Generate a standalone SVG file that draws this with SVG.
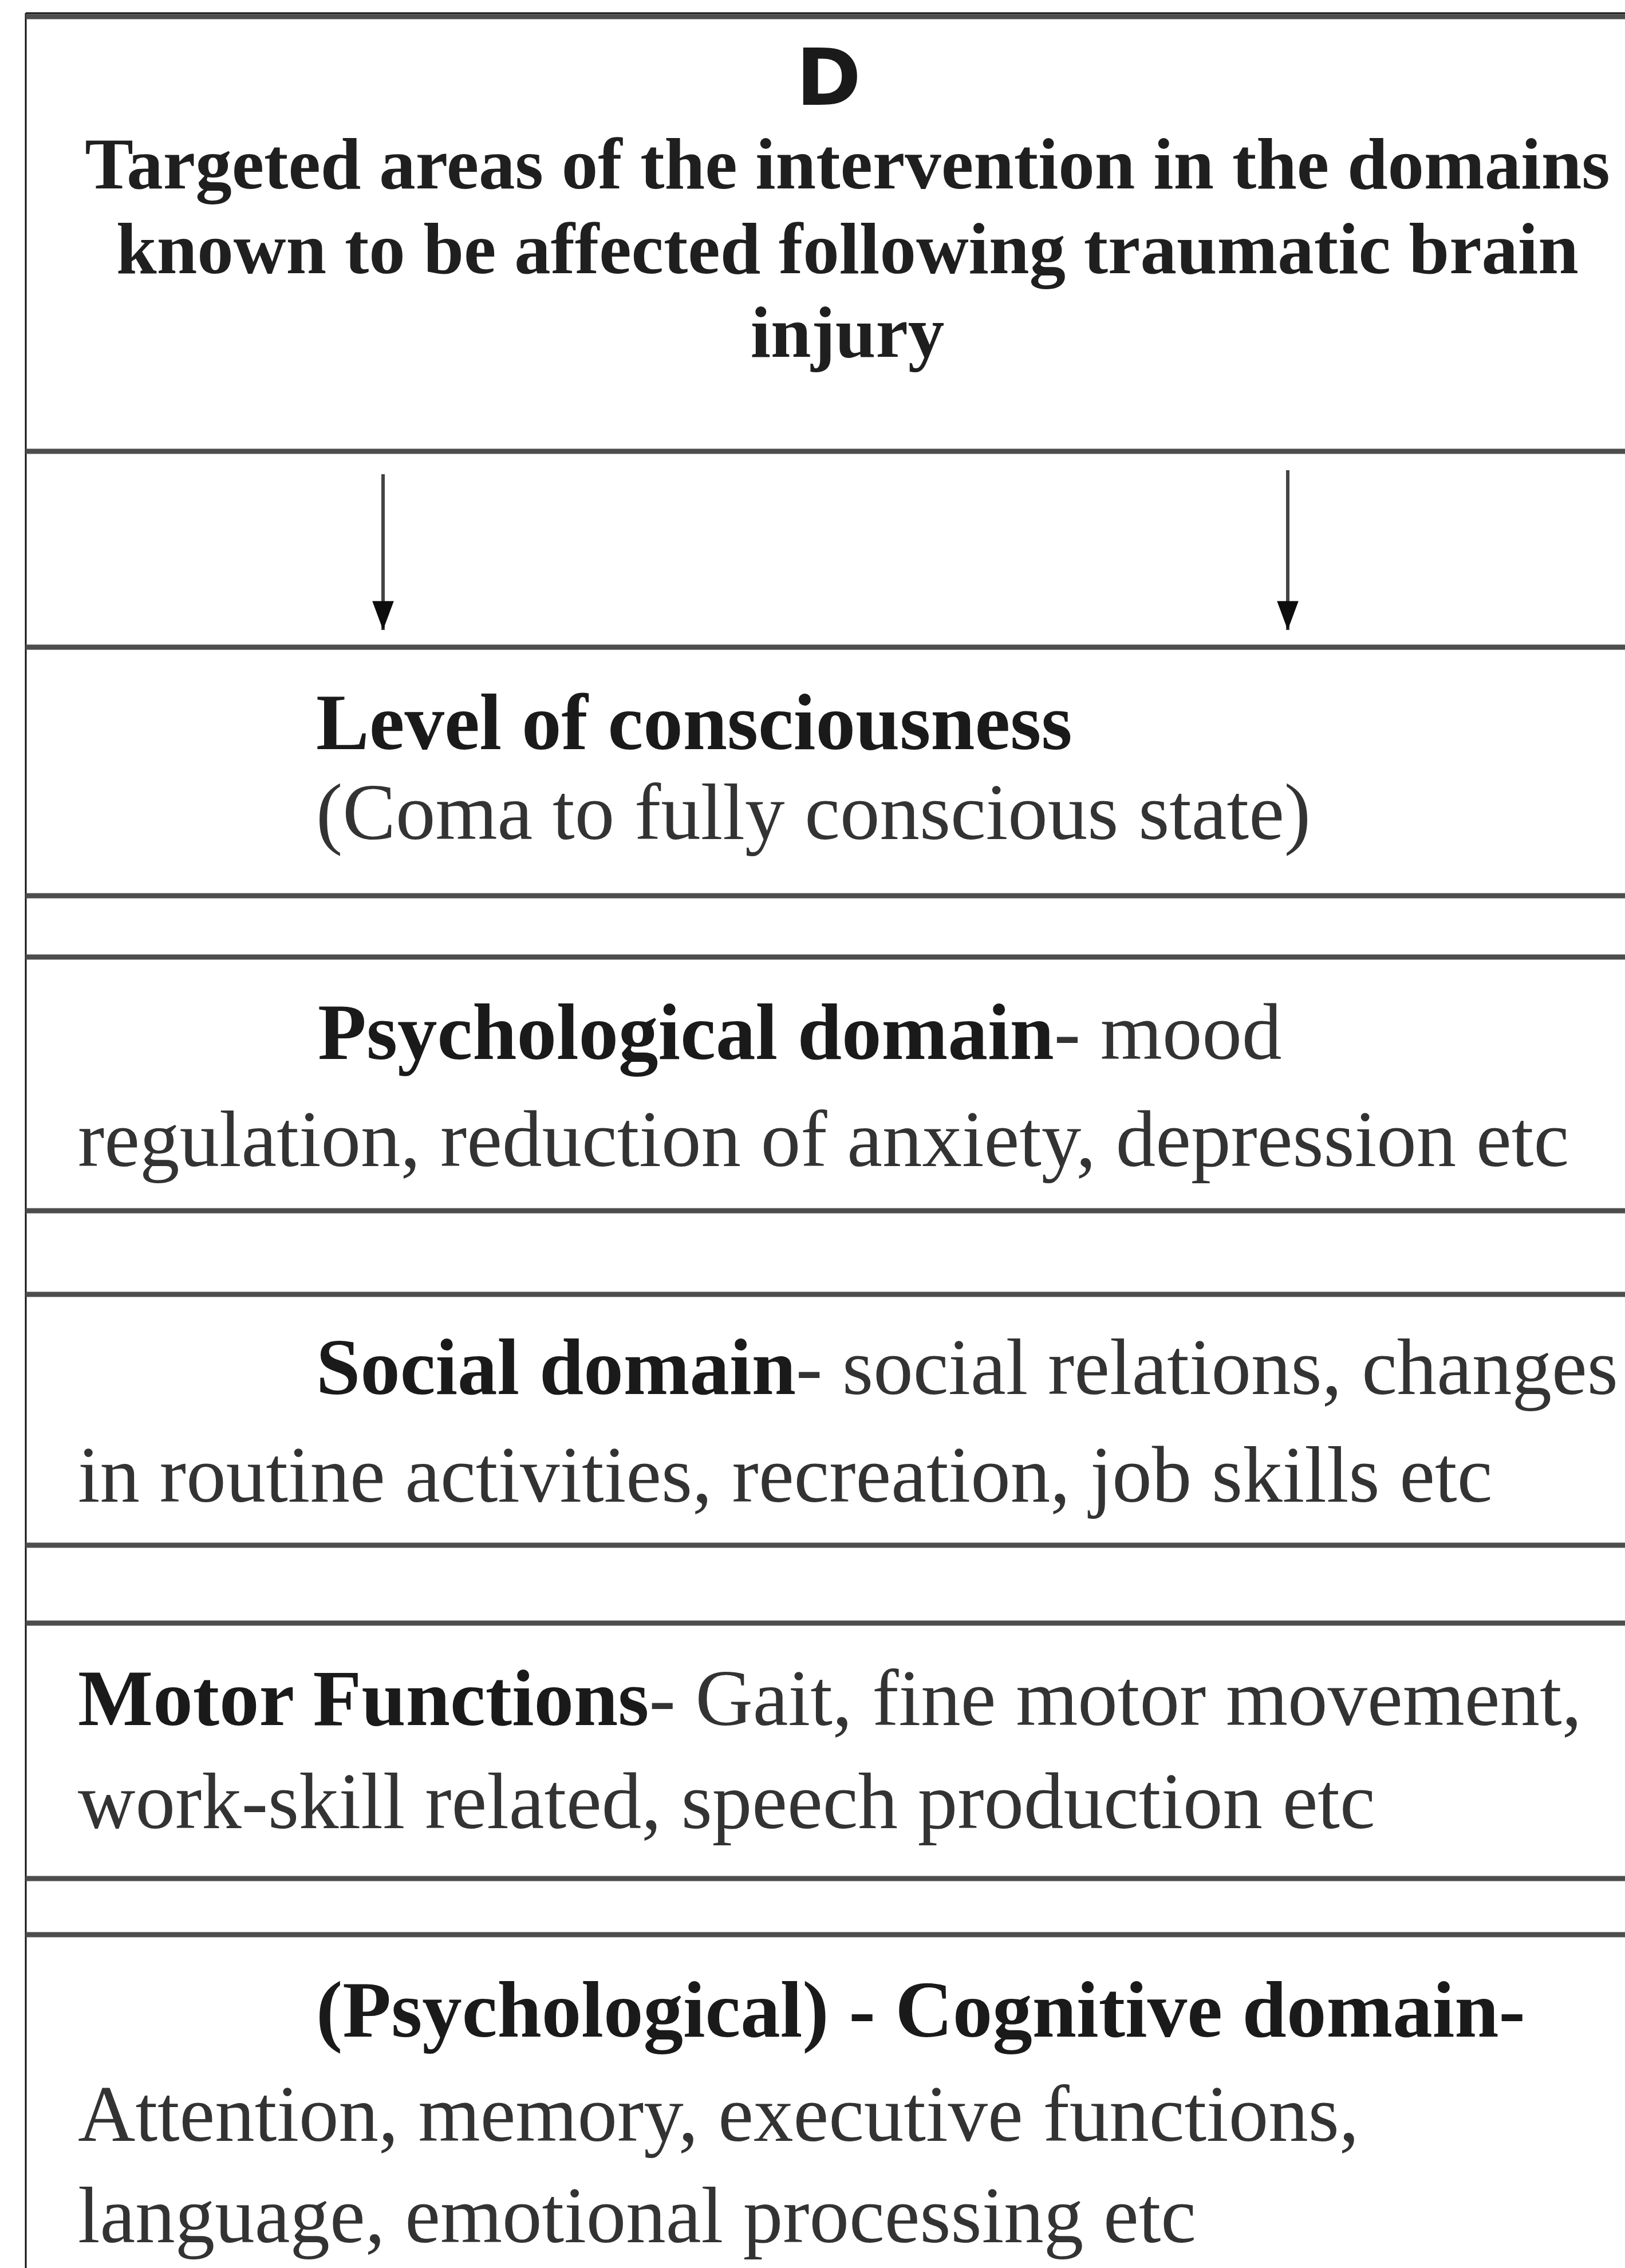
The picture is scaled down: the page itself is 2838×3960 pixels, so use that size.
<svg xmlns="http://www.w3.org/2000/svg" width="2838" height="3960" viewBox="0 0 2838 3960">
  <style>
    .bg { fill: #ffffff; }
    .frame { stroke: #111111; stroke-width: 3; fill: none; }
    .edge { stroke: #4d4d4d; stroke-width: 9; }
    .head { font-family: "DejaVu Sans", "Liberation Sans", Arial, sans-serif; font-weight: bold; font-size: 137px; fill: #1a1a1a; }
    .title { font-family: "Liberation Serif", "Times New Roman", serif; font-weight: bold; font-size: 127px; fill: #1f1f1f; }
    .t { font-family: "Liberation Serif", "Times New Roman", serif; font-size: 139px; fill: #333333; }
    .b { font-weight: bold; fill: #1a1a1a; }
    .arrow { stroke: #444444; stroke-width: 6; fill: none; }
  </style>
  <defs>
    <marker id="ah" markerUnits="userSpaceOnUse" markerWidth="52" markerHeight="72" refX="70" refY="26" orient="auto" viewBox="0 0 72 52">
      <path d="M0,0 L70,26 L0,52 Z" fill="#0d0d0d"/>
    </marker>
  </defs>

  <rect class="bg" x="0" y="0" width="2838" height="3960"/>
  <!-- outer frame (continues beyond right and bottom edges) -->
  <line class="frame" x1="45" y1="23" x2="2838" y2="23"/>
  <line class="frame" x1="45" y1="23" x2="45" y2="3960"/>

  <g id="node-title">
    <line class="edge" x1="45" y1="29" x2="2838" y2="29"/>
    <line class="edge" x1="45" y1="788" x2="2838" y2="788"/>
    <text class="head" x="1447" y="183" text-anchor="middle">D</text>
    <text class="title" x="1480" y="329" text-anchor="middle">Targeted areas of the intervention in the domains</text>
    <text class="title" x="1480" y="477" text-anchor="middle">known to be affected following traumatic brain</text>
    <text class="title" x="1480" y="623" text-anchor="middle">injury</text>
  </g>

  <g id="node-arrows-band">
    <line class="edge" x1="45" y1="1130" x2="2838" y2="1130"/>
  </g>

  <g id="node-consciousness">
    <line class="edge" x1="45" y1="1564" x2="2838" y2="1564"/>
    <text class="t b" x="552" y="1308">Level of consciousness</text>
    <text class="t" x="552" y="1465">(Coma to fully conscious state)</text>
  </g>

  <g id="node-psychological">
    <line class="edge" x1="45" y1="1671" x2="2838" y2="1671"/>
    <line class="edge" x1="45" y1="2114" x2="2838" y2="2114"/>
    <text class="t" x="555" y="1849"><tspan class="b">Psychological domain</tspan>- mood</text>
    <text class="t" x="136" y="2036">regulation, reduction of anxiety, depression etc</text>
  </g>

  <g id="node-social">
    <line class="edge" x1="45" y1="2260" x2="2838" y2="2260"/>
    <line class="edge" x1="45" y1="2698" x2="2838" y2="2698"/>
    <text class="t" x="552" y="2434"><tspan class="b">Social domain</tspan>- social relations, changes</text>
    <text class="t" x="136" y="2622">in routine activities, recreation, job skills etc</text>
  </g>

  <g id="node-motor">
    <line class="edge" x1="45" y1="2834" x2="2838" y2="2834"/>
    <line class="edge" x1="45" y1="3280" x2="2838" y2="3280"/>
    <text class="t" x="136" y="3012"><tspan class="b">Motor Functions</tspan>- Gait, fine motor movement,</text>
    <text class="t" x="136" y="3192">work-skill related, speech production etc</text>
  </g>

  <g id="node-cognitive">
    <line class="edge" x1="45" y1="3378" x2="2838" y2="3378"/>
    <text class="t b" x="552" y="3556">(Psychological) - Cognitive domain-</text>
    <text class="t" x="136" y="3738">Attention, memory, executive functions,</text>
    <text class="t" x="136" y="3915">language, emotional processing etc</text>
  </g>

  <g id="connectors">
    <line class="arrow" x1="669" y1="828" x2="669" y2="1100" marker-end="url(#ah)"/>
    <line class="arrow" x1="2249" y1="821" x2="2249" y2="1100" marker-end="url(#ah)"/>
  </g>
</svg>
